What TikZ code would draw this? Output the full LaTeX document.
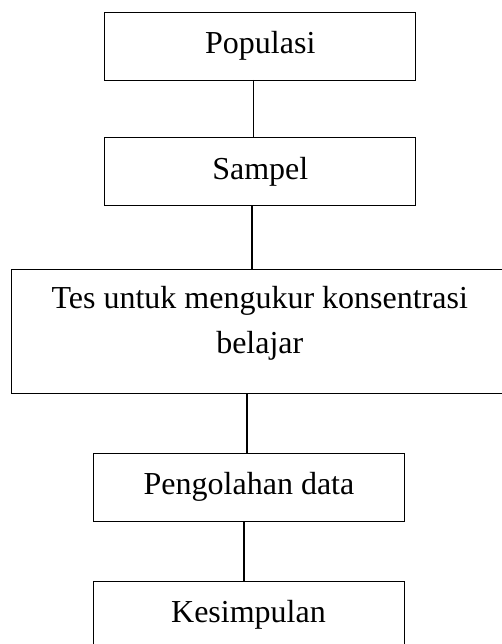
\documentclass[tikz,border=0pt]{standalone}
\usepackage{fontspec}
\setmainfont{Liberation Serif}
\begin{document}
\begin{tikzpicture}[x=1pt,y=-1pt,
  box/.style={draw, line width=0.8pt, inner sep=0pt, outer sep=0pt, minimum width=311pt, minimum height=68pt, font=\fontsize{32}{45}\selectfont},
  txt/.style={inner sep=0pt, font=\fontsize{32}{45}\selectfont, align=center},
  conn/.style={line width=1.2pt}]
\useasboundingbox (0,0) rectangle (502,644);
\clip (0,0) rectangle (502,644);
\fill[white] (0,0) rectangle (502,644);
\node[box] (pop) at (260.3,46) {Populasi};
\node[box] (samp) at (260.3,171.5) {Sampel};
\node[box, minimum width=497pt, minimum height=124pt] (tes) at (259.7,331) {};
\node[txt] (testxt) at (259.8,323) {Tes untuk mengukur konsentrasi\\belajar};
\node[box] (olah) at (249,487) {Pengolahan data};
\node[box] (kes) at (248.5,615) {Kesimpulan};
\draw[conn] ([xshift=-6.8pt]pop.south) -- ([xshift=-6.8pt]pop.south |- samp.north);
\draw[conn] ([xshift=-8.3pt]samp.south) -- ([xshift=-8.3pt]samp.south |- tes.north);
\draw[conn] ([xshift=-12.7pt]tes.south) -- ([xshift=-12.7pt]tes.south |- olah.north);
\draw[conn] ([xshift=-5pt]olah.south) -- ([xshift=-5pt]olah.south |- kes.north);
\end{tikzpicture}
\end{document}
